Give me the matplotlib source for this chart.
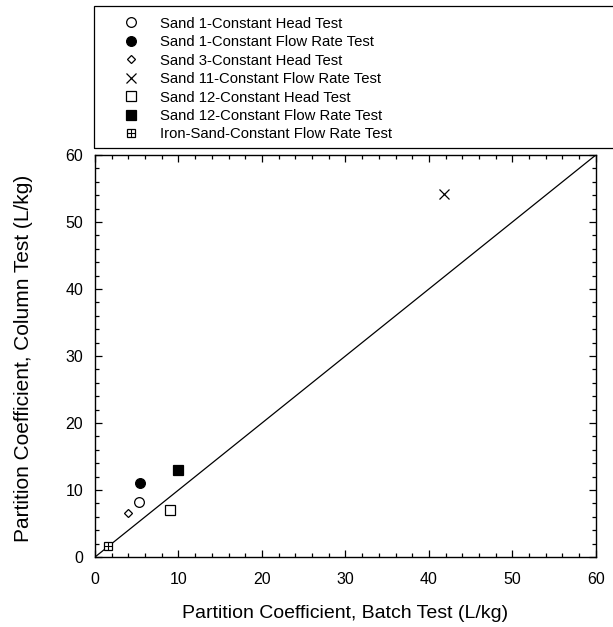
import matplotlib
matplotlib.use('Agg')
import matplotlib.pyplot as plt
from matplotlib.ticker import MultipleLocator
from matplotlib.patches import Rectangle
from matplotlib.legend_handler import HandlerTuple

plt.rcParams['font.family'] = ['Liberation Sans', 'DejaVu Sans']

# batch Kd vs column Kd (L/kg)
labels = ['Sand 1-Constant Head Test',
          'Sand 1-Constant Flow Rate Test',
          'Sand 3-Constant Head Test',
          'Sand 11-Constant Flow Rate Test',
          'Sand 12-Constant Head Test',
          'Sand 12-Constant Flow Rate Test',
          'Iron-Sand-Constant Flow Rate Test']
batch_kd = [5.3, 5.4, 4.0, 41.8, 9.0, 9.9, 1.6]
column_kd = [8.2, 11.0, 6.5, 54.2, 7.0, 13.0, 1.6]

fig = plt.figure(figsize=(6.13, 6.27), dpi=100)
ax = fig.add_axes([0.155, 0.1116, 0.817, 0.6412])

# 1:1 line
ax.plot([0, 60], [0, 60], color='black', lw=0.9)

styles = [dict(marker='o', ms=7, mfc='white'),
          dict(marker='o', ms=7, mfc='black'),
          dict(marker='D', ms=4.5, mfc='white'),
          dict(marker='x', ms=7, mfc='none'),
          dict(marker='s', ms=7.5, mfc='white'),
          dict(marker='s', ms=7.5, mfc='black'),
          dict(marker='s', ms=6, mfc='white')]

handles = []
for i in range(len(labels)):
    h, = ax.plot([batch_kd[i]], [column_kd[i]], ls='none', mec='black',
                 mew=0.9, **styles[i])
    if i == 6:
        # boxed plus symbol
        h2, = ax.plot([batch_kd[i]], [column_kd[i]], ls='none', marker='+',
                      ms=6, mec='black', mew=0.8)
        handles.append((h, h2))
    else:
        handles.append(h)

ax.set_xlim(0, 60)
ax.set_ylim(0, 60)
ax.xaxis.set_major_locator(MultipleLocator(10))
ax.xaxis.set_minor_locator(MultipleLocator(2))
ax.yaxis.set_major_locator(MultipleLocator(10))
ax.yaxis.set_minor_locator(MultipleLocator(2))
ax.tick_params(which='both', direction='in', top=True, right=True,
               labelsize=11.5, width=0.9)
ax.tick_params(which='major', length=5)
ax.tick_params(which='minor', length=3)
ax.tick_params(axis='x', which='major', pad=11)
ax.tick_params(axis='y', which='major', pad=8.5)
for s in ax.spines.values():
    s.set_linewidth(1.0)

fig.text(0.5635, 0.021, 'Partition Coefficient, Batch Test (L/kg)',
         fontsize=14, ha='center', va='center')
fig.text(0.038, 0.429, 'Partition Coefficient, Column Test (L/kg)',
         fontsize=15, ha='center', va='center', rotation=90)

leg = fig.legend(handles, labels, loc='upper left',
                 bbox_to_anchor=(0.179, 0.990), frameon=False, fontsize=10.7,
                 handlelength=1.5, handletextpad=1.15, labelspacing=0.3,
                 borderaxespad=0.3,
                 handler_map={tuple: HandlerTuple(ndivide=1, pad=0)})

# legend box (runs off the right edge)
fig.patches.append(Rectangle((0.153, 0.764), 1.0, 0.226,
                             transform=fig.transFigure, fill=False,
                             ec='black', lw=0.9))

fig.savefig('out.png', dpi=100)
